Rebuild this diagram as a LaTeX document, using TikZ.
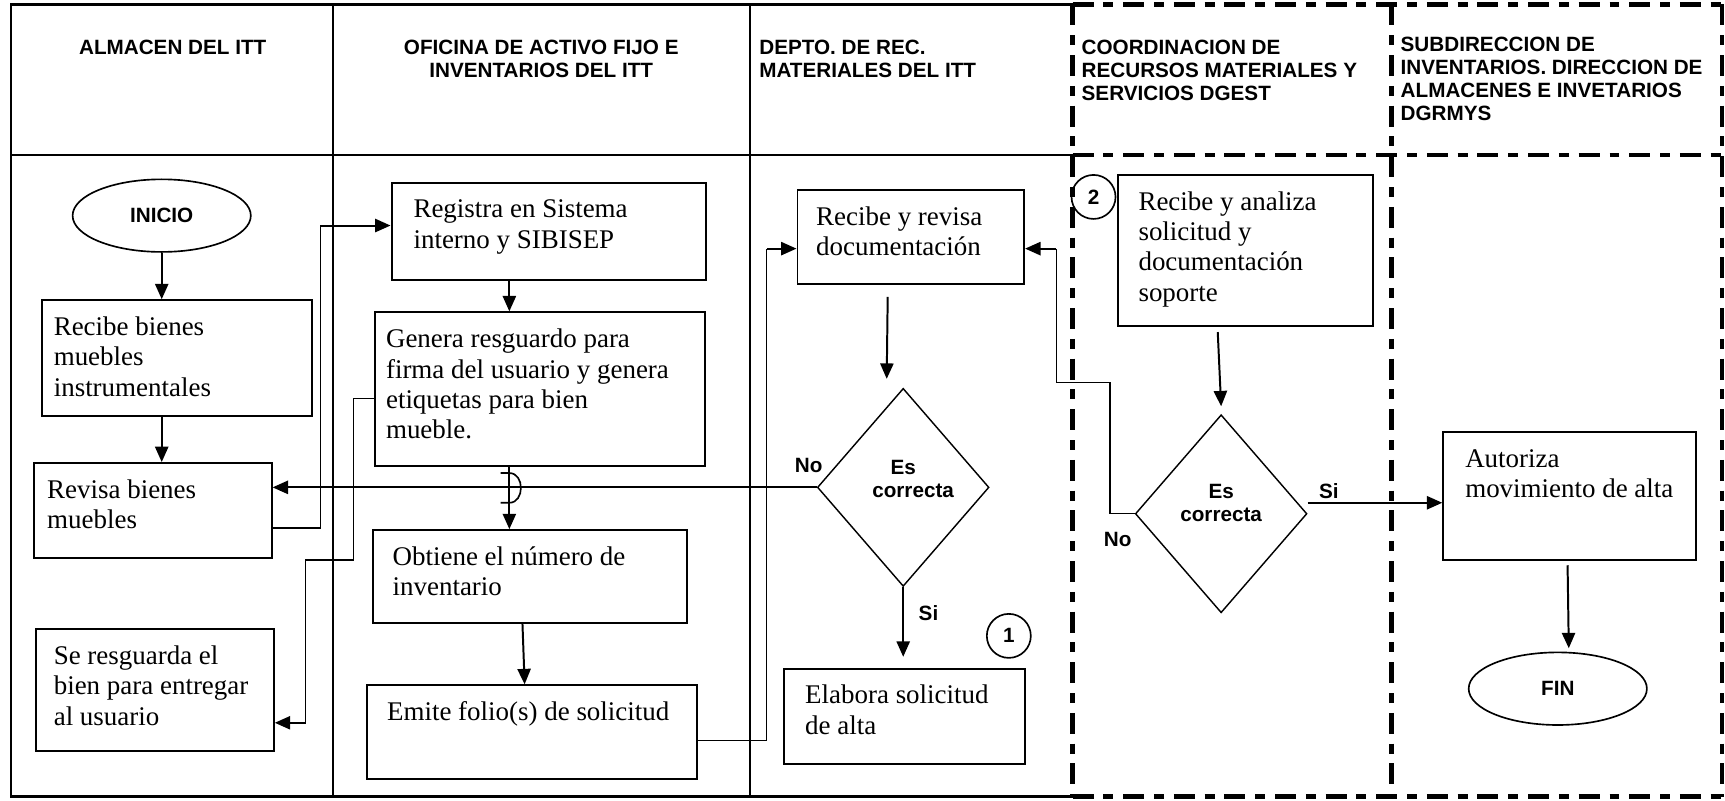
\documentclass[tikz,border=0pt]{standalone}
\usepackage{fontspec}
\setmainfont{Liberation Serif}
\newfontfamily\hdfont{Liberation Sans}
\usetikzlibrary{arrows.meta,shapes.geometric}
\newcommand{\bodysize}{\fontsize{24.5}{27.7}\selectfont}
\newcommand{\hdsize}{\hdfont\bfseries\fontsize{18.8}{21}\selectfont}
\newcommand{\boxtxt}[4]{\begin{minipage}[c][#2pt][t]{#1pt}\bodysize\raggedright\setlength\leftskip{#3pt}\rule{0pt}{32pt}#4\end{minipage}}
\begin{document}
\begin{tikzpicture}[x=1pt,y=-1pt,
  tbox/.style={draw, line width=1.8pt, inner sep=0pt, anchor=north west},
  conn/.style={line width=1.8pt},
  thinconn/.style={line width=1.1pt},
  arr/.style={line width=1.8pt, -{Triangle[length=14pt,width=12pt]}},
  hd/.style={inner sep=0pt, font=\hdsize},
  lbl/.style={inner sep=0pt, font=\hdsize},
  dia/.style={draw, diamond, line width=1.3pt, minimum width=156pt, minimum height=180pt, inner sep=0pt},
  term/.style={draw, ellipse, line width=1.5pt, minimum width=162pt, minimum height=66pt, inner sep=0pt, font=\hdsize},
  num/.style={draw, circle, line width=1.5pt, minimum size=40pt, inner sep=0pt, font=\hdsize},
  solidframe/.style={line width=2pt},
  dashframe/.style={line width=4pt, dash pattern=on 19pt off 9pt on 9pt off 9pt}
]
\fill[white] (0,0) rectangle (1568,728);
\useasboundingbox (0,0) rectangle (1568,728);

% frame
\draw[solidframe] (975,4) -- (10,4) -- (10,724) -- (975,724);
\draw[solidframe] (10,141) -- (975,141);
\draw[solidframe] (303,4) -- (303,724);
\draw[solidframe] (682,4) -- (682,724);
\draw[dashframe] (975,4) -- (1565,4);
\draw[dashframe] (975,141) -- (1565,141);
\draw[dashframe] (975,724) -- (1565,724);
\draw[dashframe] (975,4) -- (975,724);
\draw[dashframe] (1265,4) -- (1265,724);
\draw[dashframe] (1565,4) -- (1565,724);

% headers
\node[hd, anchor=north, align=center] (h1) at (157,35.8) {ALMACEN DEL ITT};
\node[hd, anchor=north, align=center] (h2) at (492,35.8) {OFICINA DE ACTIVO FIJO E\\INVENTARIOS DEL ITT};
\node[hd, anchor=north west, align=left] (h3) at (690,35.8) {DEPTO. DE REC.\\MATERIALES DEL ITT};
\node[hd, anchor=north west, align=left] (h4) at (983,35.8) {COORDINACION DE\\RECURSOS MATERIALES Y\\SERVICIOS DGEST};
\node[hd, anchor=north west, align=left] (h5) at (1273,33.5) {SUBDIRECCION DE\\INVENTARIOS. DIRECCION DE\\ALMACENES E INVETARIOS\\DGRMYS};

% nodes
\node[term] (inicio) at (147,196) {INICIO};
\node[tbox] (recibe) at (37,272) {\boxtxt{246}{105}{11}{Recibe bienes\\muebles\\instrumentales}};
\node[tbox] (revisa) at (30,420) {\boxtxt{216}{86}{12}{Revisa bienes\\muebles}};
\node[tbox] (resg) at (32,571) {\boxtxt{216}{111}{16}{Se resguarda el\\bien para entregar\\al usuario}};
\node[tbox] (registra) at (355,165) {\boxtxt{286}{89}{20}{Registra en Sistema\\interno y SIBISEP}};
\node[tbox] (genera) at (340,283) {\boxtxt{300}{140}{10}{Genera resguardo para\\firma del usuario y genera\\etiquetas para bien\\mueble.}};
\node[tbox] (obtiene) at (338,481) {\boxtxt{286}{84}{18}{Obtiene el número de\\inventario}};
\node[tbox] (emite) at (333,622) {\boxtxt{300}{85}{18}{Emite folio(s) de solicitud}};
\node[tbox] (doc) at (724,172) {\boxtxt{206}{85}{17}{Recibe y revisa\\documentación}};
\node[dia, label={[lbl, align=center, yshift=8pt]center:{Es\\\hspace*{18pt}correcta}}] (d1) at (821,443) {};
\node[tbox] (elab) at (712,607) {\boxtxt{219}{87}{19}{Elabora solicitud\\de alta}};
\node[num] (n1) at (917,578) {1};
\node[num] (n2) at (994,179) {2};
\node[tbox] (anal) at (1015,158) {\boxtxt{232}{137}{19}{Recibe y analiza\\solicitud y\\documentación\\soporte}};
\node[dia, label={[lbl, align=center, yshift=10pt]center:{Es\\correcta}}] (d2) at (1110,467) {};
\node[tbox] (aut) at (1311,392) {\boxtxt{230}{116}{20}{Autoriza\\movimiento de alta}};
\node[term] (fin) at (1416,626) {FIN};

% labels
\node[lbl] (no1) at (735,423) {No};
\node[lbl] (si1) at (844,557) {Si};
\node[lbl] (no2) at (1016,490) {No};
\node[lbl] (si2) at (1208,446) {Si};

% bend coordinates
\coordinate (j1) at (291,480);
\coordinate (j2) at (291,205);
\coordinate (k1) at (321,362);
\coordinate (k2) at (321,509);
\coordinate (k3) at (278,509);
\coordinate (k4) at (278,657);
\coordinate (hx) at (463,0);
\coordinate (m1) at (697,673);
\coordinate (m2) at (697,226);
\coordinate (p1) at (1009,348);
\coordinate (p2) at (960,348);
\coordinate (p3) at (960,226);
\coordinate (e1) at ([yshift=10pt]elab.north);
\coordinate (s2) at ([yshift=10pt]d2.east);

% connectors
\draw[arr] (inicio.south) -- (recibe.north -| inicio.south);
\draw[arr] (recibe.south -| inicio.south) -- (revisa.north -| inicio.south);
\draw[thinconn] (revisa.east |- j1) -- (j1) -- (j2) edge[arr] (registra.west |- j2);
\draw[thinconn] (genera.west |- k1) -- (k1) -- (k2) -- (k3) -- (k4) edge[arr] (resg.east |- k4);
\draw[arr] (registra.south -| hx) -- (genera.north -| hx);
\draw[arr] (genera.south -| hx) -- (obtiene.north -| hx);
\draw[line width=1.5pt] (455,430) -- (463,430) .. controls (477,430) and (477,457) .. (463,457) -- (455,457);
\draw[arr] ([xshift=-7pt]obtiene.south) -- ([xshift=-7pt]emite.north);
\draw[thinconn] (emite.east |- m1) -- (m1) -- (m2) edge[arr] (doc.west |- m2);
\draw[thinconn] (d2.west) -| (p1) -- (p2) -- (p3) edge[arr] (doc.east |- p3);
\draw[arr] (d1.west) -- (revisa.east |- d1.west);
\draw[arr] ([xshift=-21pt,yshift=-11pt]doc.south) -- ([xshift=-15pt,yshift=8pt]d1.north);
\draw[arr] (d1.south) -- (e1 -| d1.south);
\draw[arr] ([xshift=-25pt,yshift=-5pt]anal.south) -- ([yshift=7pt]d2.north);
\draw[arr] (s2) -- (s2 -| aut.west);
\draw[arr] ([xshift=-2pt,yshift=-4pt]aut.south) -- ([xshift=10pt,yshift=3pt]fin.north);
\end{tikzpicture}
\end{document}
